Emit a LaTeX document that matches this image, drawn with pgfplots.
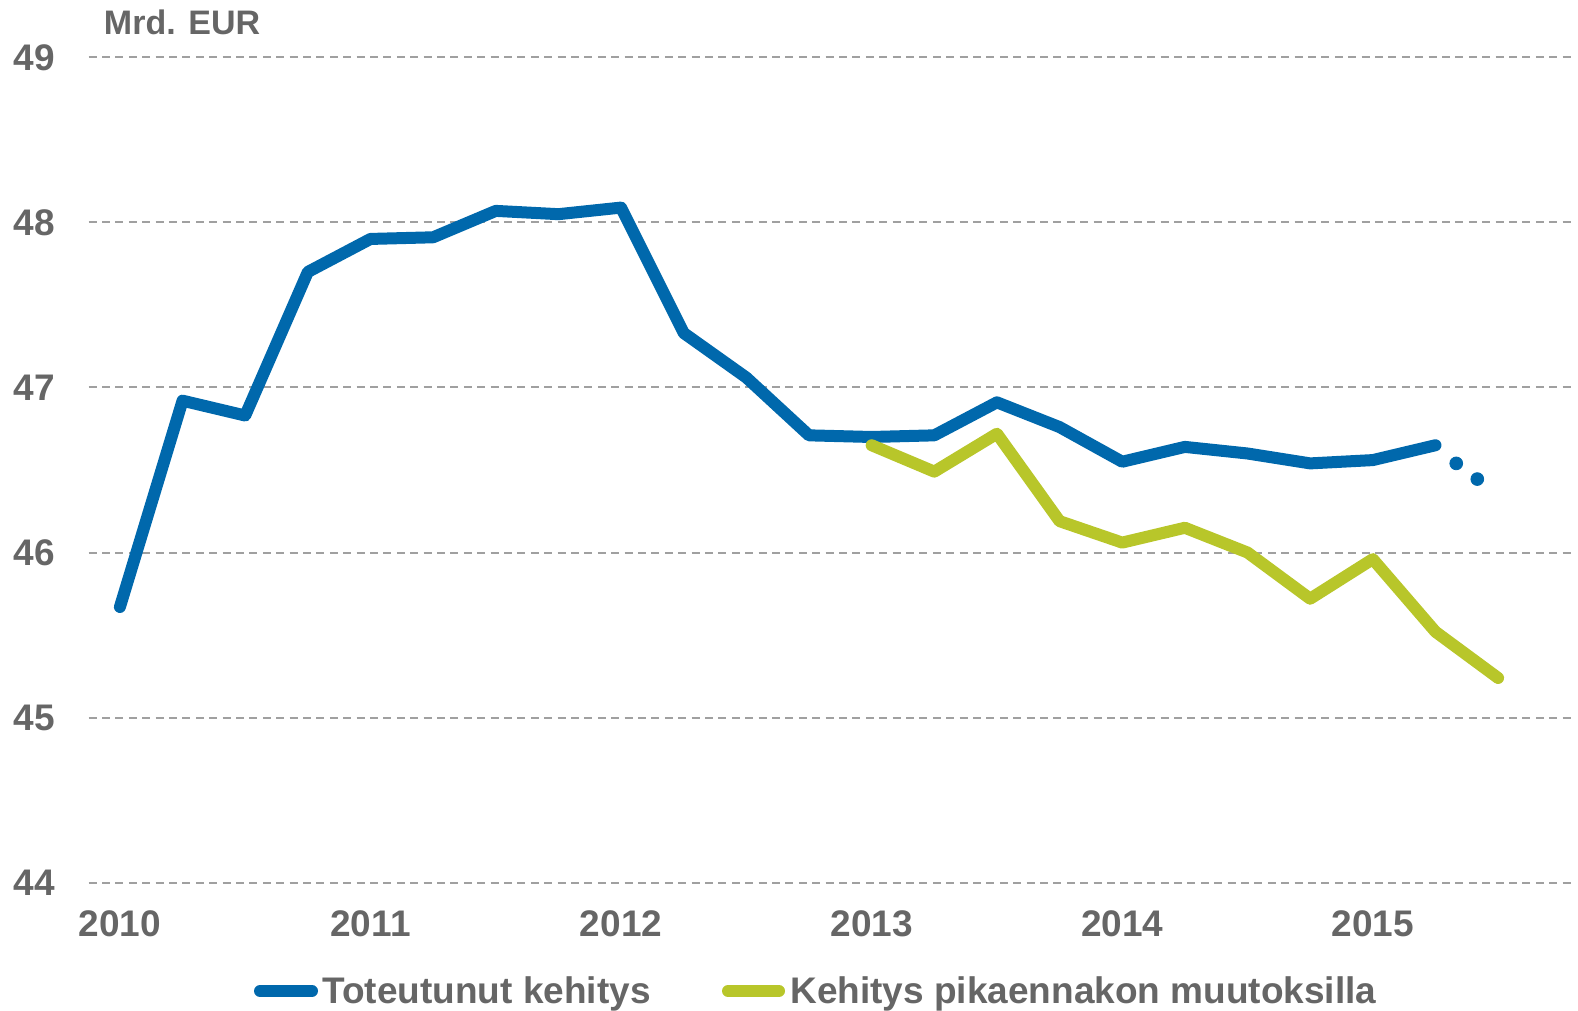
\documentclass[border=0pt]{standalone}
\usepackage{fontspec}
\setmainfont{Liberation Sans}
\usepackage{pgfplots}
\pgfplotsset{compat=1.18}
\definecolor{cblue}{HTML}{0068AC}
\definecolor{cgreen}{HTML}{B8C62A}
\definecolor{cgray}{HTML}{666666}
\definecolor{cgrid}{HTML}{A0A0A0}
\begin{document}
\begin{tikzpicture}
\begin{axis}[
  at={(0,0)}, anchor=south west,
  scale only axis, width=743.2bp, height=412.6bp,
  xmin=2009.875, xmax=2015.807, ymin=44, ymax=49,
  axis line style={draw=none}, tick style={draw=none}, major tick length=0pt,
  xtick={2010,2011,2012,2013,2014,2015}, ytick={44,45,46,47,48,49},
  ymajorgrids, grid style={cgrid, line width=1bp, dash pattern=on 4bp off 2.7bp},
  /pgf/number format/assume math mode=true,
  /pgf/number format/1000 sep={},
  ticklabel style={font=\fontsize{18.5bp}{20bp}\selectfont\bfseries, text=cgray, inner sep=0pt},
  xticklabel style={anchor=north, yshift=-13.7bp},
  yticklabel style={anchor=east, xshift=-16.6bp},
  clip=false,
]
\addplot[cblue, line width=6bp, line join=round, line cap=round] coordinates {
(2010.00,45.67) (2010.25,46.92) (2010.50,46.83) (2010.75,47.70)
(2011.00,47.90) (2011.25,47.91) (2011.50,48.07) (2011.75,48.05)
(2012.00,48.09) (2012.25,47.33) (2012.50,47.06) (2012.75,46.71)
(2013.00,46.70) (2013.25,46.71) (2013.50,46.91) (2013.75,46.76)
(2014.00,46.55) (2014.25,46.64) (2014.50,46.60) (2014.75,46.54)
(2015.00,46.56) (2015.25,46.65)
};
\addplot[cblue, only marks, mark=*, mark size=3.2bp, mark options={draw=none, fill=cblue}] coordinates {
(2015.333,46.54) (2015.417,46.445)
};
\addplot[cgreen, line width=6bp, line join=round, line cap=round] coordinates {
(2013.00,46.65) (2013.25,46.49) (2013.50,46.72) (2013.75,46.19)
(2014.00,46.06) (2014.25,46.15) (2014.50,46.00) (2014.75,45.72)
(2015.00,45.96) (2015.25,45.52) (2015.50,45.24)
};
\node[anchor=base west, inner sep=0pt, text=cgray, font=\fontsize{17bp}{19bp}\selectfont\bfseries]
  at ([xshift=7.5bp, yshift=11.2bp]rel axis cs:0,1) {Mrd. EUR};
\end{axis}
\draw[cblue, line width=6bp, line cap=round] (85.7bp,-54.2bp) -- (111.7bp,-54.2bp);
\node[anchor=base west, inner sep=0pt, text=cgray, font=\fontsize{18.5bp}{20bp}\selectfont\bfseries]
  at (116.7bp,-60.2bp) {Toteutunut kehitys};
\draw[cgreen, line width=6bp, line cap=round] (319.7bp,-54.2bp) -- (345.2bp,-54.2bp);
\node[anchor=base west, inner sep=0pt, text=cgray, font=\fontsize{18.5bp}{20bp}\selectfont\bfseries]
  at (350.7bp,-60.2bp) {Kehitys pikaennakon muutoksilla};
\pgfresetboundingbox
\useasboundingbox (-44.3bp,-64.2bp) rectangle (744.7bp,441.3bp);
\end{tikzpicture}
\end{document}
